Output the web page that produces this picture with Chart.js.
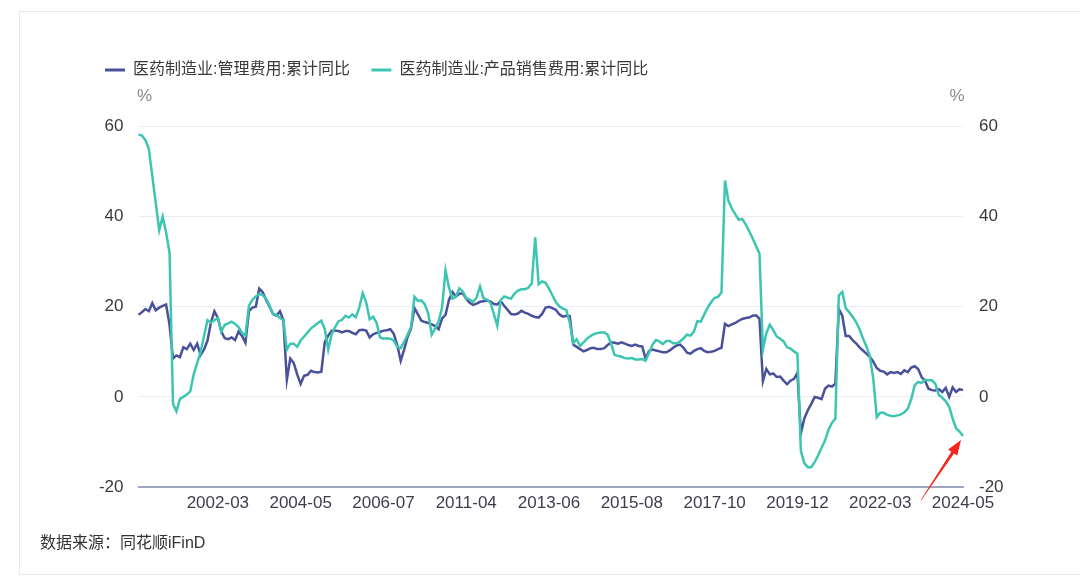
<!DOCTYPE html>
<html>
<head>
<meta charset="utf-8">
<script src="https://cdn.jsdelivr.net/npm/chart.js@4.4.1/dist/chart.umd.min.js"></script>
<style>
html,body{margin:0;padding:0;background:#fff;}
#wrap{position:relative;width:1080px;height:583px;overflow:hidden;background:#fff;}
#panel{position:absolute;left:19px;top:11px;width:1100px;height:564px;border:1px solid #e8e8f0;box-sizing:border-box;}
#c{position:absolute;left:0;top:0;}
#src{position:absolute;left:40px;top:533px;font-size:16px;line-height:20px;font-family:"Liberation Sans","Noto Sans CJK SC",sans-serif;color:#333;}
</style>
</head>
<body>
<div id="wrap">
  <div id="panel"></div>
  <canvas id="c" width="1080" height="583"></canvas>
  <div id="src">数据来源：同花顺iFinD</div>
</div>
<script>
// ---- data ----
const categorySpans = [['2000-02', '2008-06'], ['2011-02', '2024-05']];
const tickLabels = ['2002-03','2004-05','2006-07','2011-04','2013-06','2015-08','2017-10','2019-12','2022-03','2024-05'];
const seriesNames = ['医药制造业:管理费用:累计同比', '医药制造业:产品销售费用:累计同比'];

const mgmtExpense = [
  18.2, 18.8, 19.5, 19.0, 20.8, 19.2, 19.8, 20.2, 20.5, 16.0,
  8.5, 9.2, 8.8, 11.0, 10.6, 11.8, 10.4, 11.8, 9.3, 10.5,
  12.5, 16.5, 19.0, 17.5, 14.5, 13.0, 12.8, 13.2, 12.6, 14.5,
  13.5, 12.0, 19.0, 19.8, 20.0, 24.0, 23.2, 21.5, 20.0, 18.4,
  18.0, 19.0, 17.0, 3.8, 8.5, 7.5, 5.0, 2.9, 4.7, 4.9,
  5.8, 5.5, 5.4, 5.6, 12.2, 13.6, 14.7, 14.7, 14.6, 14.3,
  14.6, 14.6, 14.2, 13.9, 14.8, 14.9, 14.7, 13.2, 13.9, 14.2,
  14.4, 14.7, 14.8, 15.0, 14.0, 11.5, 8.0, 10.5, 13.3, 15.2,
  19.7, 18.3, 16.9, 16.6, 16.4, 16.1, 15.7, 15.0, 17.4, 18.2,
  21.5, 23.3, 22.3, 22.9, 23.0, 21.8, 20.9, 20.4, 20.7, 21.1,
  21.2, 21.4, 21.2, 20.6, 20.5, 21.3, 20.2, 19.3, 18.4, 18.3,
  18.5, 19.1, 18.7, 18.4, 18.0, 17.7, 17.6, 18.4, 19.8, 20.0,
  19.7, 19.3, 18.3, 17.8, 18.0, 17.9, 11.6, 11.1, 10.6, 10.1,
  10.4, 10.8, 10.9, 10.6, 10.6, 10.8, 11.5, 12.1, 12.0, 11.8,
  12.1, 11.8, 11.5, 11.3, 11.6, 11.3, 11.2, 8.5, 10.2, 10.5,
  10.3, 10.1, 9.9, 9.9, 10.3, 10.9, 11.4, 11.6, 10.9, 9.8,
  9.6, 10.2, 10.6, 10.8, 10.2, 9.9, 10.0, 10.2, 10.6, 10.9,
  16.2, 15.7, 16.1, 16.4, 16.9, 17.3, 17.5, 17.6, 18.0, 18.1,
  17.4, 3.5, 6.2, 5.0, 5.2, 4.4, 4.5, 3.6, 2.8, 3.6,
  4.0, 5.3, -8.1, -4.8, -3.0, -1.6, 0.0, -0.2, -0.5, 1.8,
  2.5, 2.3, 2.9, 19.5, 18.0, 13.5, 13.5, 12.6, 11.9, 11.0,
  10.3, 9.6, 8.9, 7.8, 6.4, 5.8, 5.6, 5.0, 5.5, 5.3,
  5.5, 5.1, 5.9, 5.5, 6.5, 6.8, 6.2, 4.4, 3.6, 1.8,
  1.5, 1.4, 1.7, 1.1, 2.0, 0.0, 2.1, 1.1, 1.7, 1.5
];

const salesExpense = [
  58.2, 58.0, 57.0, 55.0, 49.0, 43.0, 37.0, 40.0, 36.5, 32.0,
  -1.5, -3.2, -0.5, 0.0, 0.5, 1.2, 5.0, 7.5, 10.0, 13.5,
  17.0, 16.5, 17.0, 17.5, 14.5, 16.0, 16.3, 16.7, 16.2, 15.5,
  14.2, 13.6, 20.2, 21.5, 22.3, 22.8, 22.6, 21.8, 20.2, 18.4,
  18.2, 17.5, 17.0, 10.5, 11.8, 11.8, 11.1, 12.5, 13.4, 14.3,
  15.2, 15.8, 16.4, 16.9, 15.0, 10.5, 13.9, 15.5, 16.8, 17.1,
  18.0, 17.6, 18.3, 17.7, 19.8, 23.0, 21.0, 17.2, 17.8, 16.5,
  13.2, 12.9, 13.0, 12.9, 12.5, 11.1, 10.8, 12.2, 13.8, 15.5,
  22.2, 21.3, 21.4, 20.5, 18.5, 13.8, 15.2, 16.8, 19.8, 28.1,
  24.3, 21.8, 22.2, 24.1, 23.4, 21.9, 21.6, 21.1, 22.0, 24.5,
  21.9, 21.6, 20.9, 18.4, 15.8, 21.5, 22.3, 22.0, 21.8, 22.9,
  23.6, 23.9, 23.9, 24.2, 25.2, 35.4, 25.0, 25.6, 25.3, 24.0,
  22.5, 21.0, 20.1, 19.6, 19.3, 16.5, 12.0, 12.8, 11.3, 12.1,
  12.9, 13.5, 13.9, 14.2, 14.3, 14.3, 13.8, 11.8, 9.3, 9.1,
  8.9, 8.6, 8.5, 8.6, 8.3, 8.3, 8.4, 8.0, 9.8, 11.6,
  12.6, 12.3, 11.7, 12.4, 12.4, 11.9, 11.9, 12.3, 13.0, 13.8,
  13.6, 14.5, 16.8, 16.7, 18.3, 19.8, 21.0, 22.0, 22.2, 23.2,
  48.0, 43.5, 41.8, 40.5, 39.3, 39.5, 38.3, 36.8, 35.2, 33.5,
  31.8, 10.5, 14.2, 16.0, 14.8, 13.4, 12.9, 12.3, 11.0, 10.7,
  10.1, 9.6, -12.0, -14.7, -15.6, -15.6, -14.5, -13.0, -11.3, -9.7,
  -7.3, -5.8, -4.8, 22.5, 23.3, 19.7, 18.8, 17.8, 16.6, 15.0,
  13.0, 11.2, 9.0, 4.0, -4.5, -3.5, -3.5, -4.0, -4.2, -4.3,
  -4.1, -3.9, -3.4, -2.6, -0.5, 2.6, 3.3, 3.1, 3.8, 3.7,
  3.7, 2.9, 0.4, -0.2, -1.0, -2.2, -4.8, -7.0, -7.7, -8.7
];

// monthly categories (January not published), with the source's data gap
function buildMonths(spans) {
  const out = [];
  for (const [a, b] of spans) {
    let [y, m] = a.split('-').map(Number);
    const [ye, me] = b.split('-').map(Number);
    while (y < ye || (y === ye && m <= me)) {
      if (m !== 1) out.push(y + '-' + String(m).padStart(2, '0'));
      m++; if (m > 12) { m = 1; y++; }
    }
  }
  return out;
}
const categories = buildMonths(categorySpans);

// ---- style ----
const FONT = '"Liberation Sans", "Noto Sans CJK SC", sans-serif';
const NAVY = '#4a509a';
const TEAL = '#3cc6b2';

const overlay = {
  id: 'overlay',
  afterDatasetsDraw(chart) {
    const {ctx, chartArea} = chart;
    const xs = chart.scales.x, ys = chart.scales.y1;
    ctx.save();
    ctx.font = '17px ' + FONT;
    ctx.fillStyle = '#8a8a8a';
    ctx.textAlign = 'center';
    ctx.textBaseline = 'middle';
    ctx.fillText('%', chartArea.left + 6, chartArea.top - 30.5);
    ctx.fillText('%', chartArea.right - 6, chartArea.top - 30.5);
    // red arrow pointing at the latest value
    const n = salesExpense.length;
    const tipX = xs.getPixelForValue(n - 1) - 2;
    const tipY = ys.getPixelForValue(salesExpense[n - 1]) + 4;
    const tailX = tipX - 40, tailY = tipY + 60;
    const ang = Math.atan2(tipY - tailY, tipX - tailX);
    const headLen = 15, headW = 5.5;
    const bx = tipX - headLen * Math.cos(ang), by = tipY - headLen * Math.sin(ang);
    const px = -Math.sin(ang), py = Math.cos(ang);
    ctx.fillStyle = '#f2261c';
    ctx.beginPath();
    ctx.moveTo(tailX + px * 0.3, tailY + py * 0.3);
    ctx.lineTo(bx + px * 1.6, by + py * 1.6);
    ctx.lineTo(bx + px * headW, by + py * headW);
    ctx.lineTo(tipX, tipY);
    ctx.lineTo(bx - px * headW, by - py * headW);
    ctx.lineTo(bx - px * 1.6, by - py * 1.6);
    ctx.lineTo(tailX - px * 0.3, tailY - py * 0.3);
    ctx.closePath();
    ctx.fill();
    ctx.restore();
  }
};

new Chart(document.getElementById('c'), {
  type: 'line',
  data: {
    labels: categories,
    datasets: [
      { label: seriesNames[0], data: mgmtExpense, borderColor: NAVY, backgroundColor: NAVY,
        borderWidth: 2.5, pointRadius: 0, tension: 0, yAxisID: 'y', order: 2 },
      { label: seriesNames[1], data: salesExpense, borderColor: TEAL, backgroundColor: TEAL,
        borderWidth: 2.5, pointRadius: 0, tension: 0, yAxisID: 'y1', order: 1 }
    ]
  },
  options: {
    responsive: false,
    animation: false,
    events: [],
    layout: { padding: { left: 83.5, top: 40.5, right: 0, bottom: 0 } },
    plugins: {
      legend: {
        align: 'start',
        labels: {
          font: { size: 16, family: FONT },
          color: '#3a3a3a',
          boxWidth: 20,
          boxHeight: 3,
          padding: 21.5,
          sort: (a, b) => a.datasetIndex - b.datasetIndex,
          generateLabels(chart) {
            return Chart.defaults.plugins.legend.labels.generateLabels(chart).map(it => {
              it.lineWidth = 0; it.fillStyle = it.strokeStyle; return it;
            });
          }
        }
      },
      title: { display: true, text: ' ', weight: 10, font: { size: 10 }, padding: { top: 26.5, bottom: 0 }, color: 'rgba(0,0,0,0)' },
      tooltip: { enabled: false }
    },
    scales: {
      x: {
        ticks: {
          autoSkip: false, maxRotation: 0, minRotation: 0, padding: 6,
          font: { size: 17, family: FONT }, color: '#3d3d4f',
          callback(v, i) { const l = categories[i]; return tickLabels.includes(l) ? l : null; }
        },
        grid: { display: false, drawTicks: false },
        border: { display: true, color: '#9ea6c2', width: 2 },
        afterFit(s) { s.height = 96; }
      },
      y: {
        position: 'left', min: -20, max: 60,
        ticks: { stepSize: 20, padding: 15, font: { size: 17, family: FONT }, color: '#3a3a3a' },
        grid: { color: '#ececf5', lineWidth: 1, drawTicks: false },
        border: { display: false },
        afterFit(s) { s.width = 55; }
      },
      y1: {
        position: 'right', min: -20, max: 60,
        ticks: { stepSize: 20, padding: 16, font: { size: 17, family: FONT }, color: '#3a3a3a' },
        grid: { display: false, drawTicks: false },
        border: { display: false },
        afterFit(s) { s.width = 117; }
      }
    }
  },
  plugins: [overlay]
});
</script>
</body>
</html>
